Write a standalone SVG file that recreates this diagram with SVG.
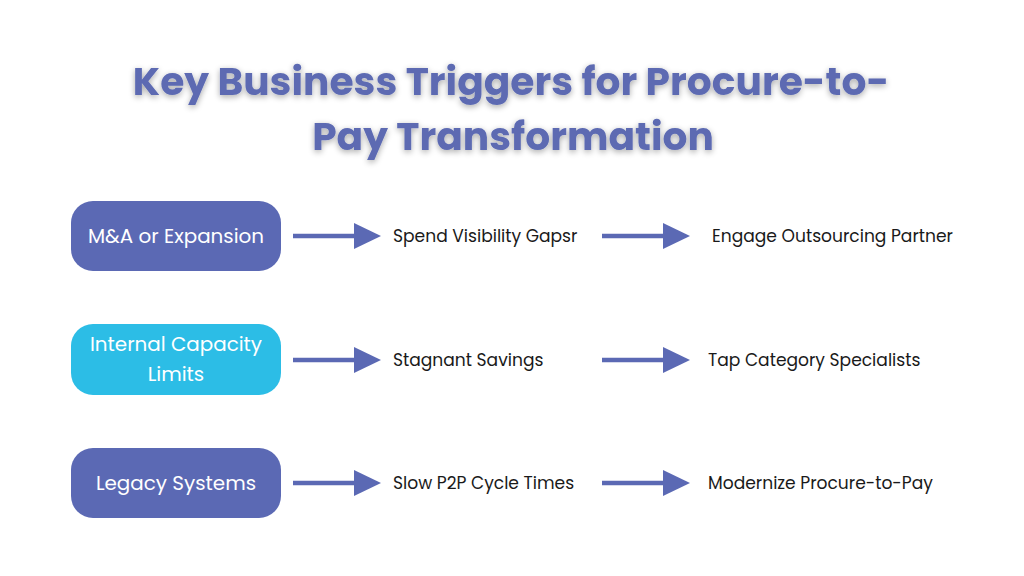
<svg xmlns="http://www.w3.org/2000/svg" width="1024" height="576" viewBox="0 0 1024 576">
<defs>
<style>
.title{font-family:Poppins,Inter,"Open Sans",sans-serif;font-weight:700;font-size:39.2px;fill:#5d6bb2;text-anchor:middle}
.box{fill:#5b69b4}
.box2{fill:#2cbde6}
.bt{font-family:Poppins,"Open Sans",Inter,sans-serif;font-size:19.9px;fill:#ffffff;text-anchor:middle}
.lbl{font-family:Poppins,"Open Sans",Inter,sans-serif;font-size:17.1px;fill:#1a1a1a}
.ln{stroke:#5b69b4;stroke-width:4.5;fill:none}
.ah{fill:#5b69b4}
</style>
<filter id="sh" x="-10%" y="-30%" width="120%" height="160%">
<feGaussianBlur in="SourceAlpha" stdDeviation="3"/>
<feOffset dx="0" dy="2" result="b"/>
<feComponentTransfer><feFuncA type="linear" slope="0.35"/></feComponentTransfer>
<feMerge><feMergeNode/><feMergeNode in="SourceGraphic"/></feMerge>
</filter>
</defs>
<rect width="1024" height="576" fill="#ffffff"/>
<g id="title" filter="url(#sh)">
<text class="title" x="511" y="95">Key Business Triggers for Procure-to-</text>
<text class="title" x="513" y="150">Pay Transformation</text>
</g>
<g id="node-ma"><rect class="box" x="71" y="201" width="210" height="70" rx="22"/><text class="bt" x="176" y="243">M&amp;A or Expansion</text></g>
<g id="node-icl"><rect class="box2" x="71" y="324" width="210" height="71" rx="22"/><text class="bt" x="176" y="351">Internal Capacity</text><text class="bt" x="176" y="381">Limits</text></g>
<g id="node-ls"><rect class="box" x="71" y="448" width="210" height="70" rx="22"/><text class="bt" x="176" y="490">Legacy Systems</text></g>
<g id="node-svg"><text class="lbl" x="393" y="242">Spend Visibility Gapsr</text></g>
<g id="node-eop"><text class="lbl" x="712" y="242">Engage Outsourcing Partner</text></g>
<g id="node-ss"><text class="lbl" x="393" y="366">Stagnant Savings</text></g>
<g id="node-tcs"><text class="lbl" x="708" y="366">Tap Category Specialists</text></g>
<g id="node-sp2p"><text class="lbl" x="393" y="489">Slow P2P Cycle Times</text></g>
<g id="node-mp2p"><text class="lbl" x="708" y="489">Modernize Procure-to-Pay</text></g>
<g id="connectors">
<line class="ln" x1="293" y1="236" x2="358" y2="236"/><polygon class="ah" points="354,223 381,236 354,249"/>
<line class="ln" x1="602" y1="236" x2="667" y2="236"/><polygon class="ah" points="663,223 690,236 663,249"/>
<line class="ln" x1="293" y1="360" x2="358" y2="360"/><polygon class="ah" points="354,347 381,360 354,373"/>
<line class="ln" x1="602" y1="360" x2="667" y2="360"/><polygon class="ah" points="663,347 690,360 663,373"/>
<line class="ln" x1="293" y1="483" x2="358" y2="483"/><polygon class="ah" points="354,470 381,483 354,496"/>
<line class="ln" x1="602" y1="483" x2="667" y2="483"/><polygon class="ah" points="663,470 690,483 663,496"/>
</g>
</svg>
